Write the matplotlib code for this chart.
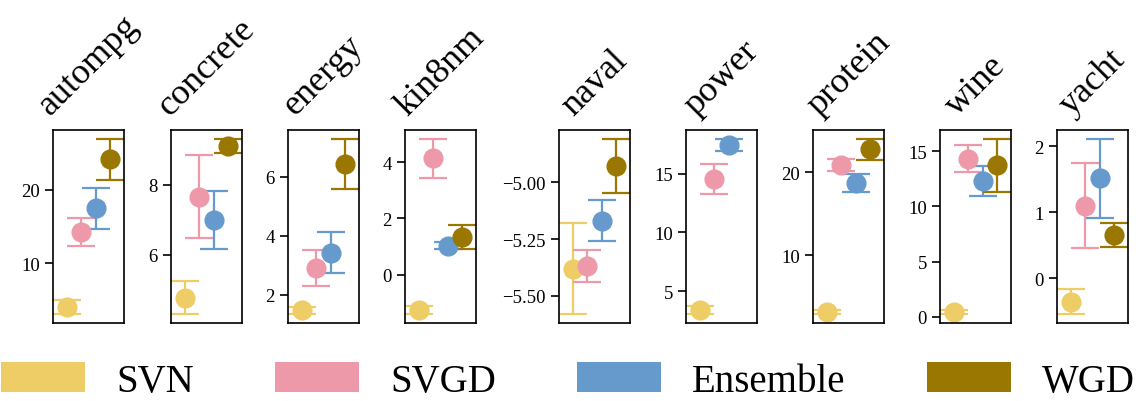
import numpy as np
import matplotlib
matplotlib.use("Agg")
import matplotlib.pyplot as plt
from matplotlib.patches import Patch
from matplotlib.ticker import MaxNLocator

plt.rcParams["font.family"] = ["Liberation Serif", "DejaVu Serif"]

datasets = ["autompg", "concrete", "energy", "kin8nm", "naval",
            "power", "protein", "wine", "yacht"]
methods = ["SVN", "SVGD", "Ensemble", "WGD"]
colors = ["#EECC66", "#EE99AA", "#6699CC", "#997700"]

# mean per dataset, one list per method
svn_mean = [4.0, 4.77, 1.46, -1.26, -5.38, 3.38, 3.16, 0.45, -0.35]
svgd_mean = [14.25, 7.66, 2.90, 4.14, -5.37, 14.56, 20.88, 14.31, 1.10]
ens_mean = [17.5, 7.00, 3.43, 1.03, -5.17, 17.47, 18.76, 12.27, 1.51]
wgd_mean = [24.15, 9.11, 6.45, 1.33, -4.93, np.nan, 22.78, 13.71, 0.66]

# error bar half-widths
svn_err = [0.95, 0.47, 0.13, 0.14, 0.20, 0.33, 0.28, 0.20, 0.19]
svgd_err = [1.95, 1.18, 0.60, 0.69, 0.07, 1.30, 0.72, 1.20, 0.64]
ens_err = [2.8, 0.83, 0.69, 0.12, 0.09, 0.50, 1.08, 1.37, 0.60]
wgd_err = [2.8, 0.20, 0.85, 0.43, 0.12, np.nan, 1.28, 2.40, 0.18]

means = [svn_mean, svgd_mean, ens_mean, wgd_mean]
errs = [svn_err, svgd_err, ens_err, wgd_err]

W, H = 1136, 402
fig = plt.figure(figsize=(W / 100, H / 100), dpi=100)

lefts = [53, 171, 288, 405, 559, 686, 813, 940, 1057]
ax_w, ax_top, ax_bot = 71, 131, 324

for i, name in enumerate(datasets):
    ax = fig.add_axes([lefts[i] / W, (H - ax_bot) / H, ax_w / W,
                       (ax_bot - ax_top) / H])
    for j in range(len(methods)):
        ax.errorbar([j], [means[j][i]], yerr=[errs[j][i]], fmt="o",
                    color=colors[j], ms=13.5, capsize=10,
                    elinewidth=1.6, capthick=1.6)
    ax.set_xlim(-1, 4)
    ax.set_xticks([])
    ax.yaxis.set_major_locator(MaxNLocator(nbins=4, steps=[1, 2, 2.5, 5, 10]))
    ax.tick_params(axis="y", labelsize=13.5, length=6, width=1.2)
    for sp in ax.spines.values():
        sp.set_linewidth(1.2)
    ax.set_title(name, rotation=45, fontsize=26, pad=12)

handles = [Patch(facecolor=c, edgecolor="none", label=m)
           for m, c in zip(methods, colors)]
fig.legend(handles=handles, loc="lower center", ncol=4, frameon=False,
           fontsize=28, bbox_to_anchor=(0.5, -0.035), borderaxespad=0,
           handlelength=2.15, handleheight=0.8, columnspacing=2.1)

fig.savefig("out.png", dpi=100)
